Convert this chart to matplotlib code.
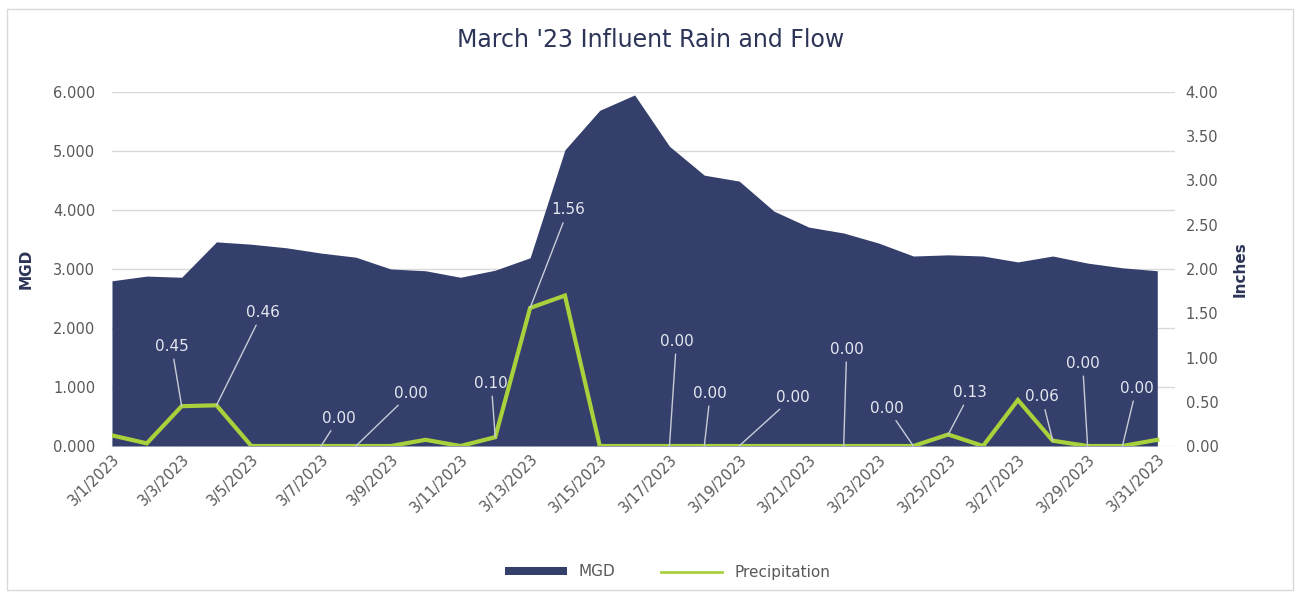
import numpy as np
import matplotlib
matplotlib.use("Agg")
import matplotlib.pyplot as plt
from matplotlib.patches import Rectangle, Patch
from matplotlib.lines import Line2D

# Data
days = [f"3/{d}/2023" for d in range(1, 32)]
mgd = [2.80, 2.88, 2.86, 3.46, 3.42, 3.36, 3.27, 3.20, 3.00, 2.97,
       2.86, 2.98, 3.19, 5.02, 5.69, 5.95, 5.08, 4.59, 4.49, 3.98,
       3.71, 3.61, 3.44, 3.22, 3.24, 3.22, 3.12, 3.22, 3.10, 3.02, 2.97]
precip = [0.12, 0.03, 0.45, 0.46, 0.00, 0.00, 0.00, 0.00, 0.00, 0.07,
          0.00, 0.10, 1.56, 1.70, 0.00, 0.00, 0.00, 0.00, 0.00, 0.00,
          0.00, 0.00, 0.00, 0.00, 0.13, 0.00, 0.52, 0.06, 0.00, 0.00, 0.07]

# which points carry a data label, and where the label sits (px offset from point)
label_idx = [2, 3, 6, 7, 11, 12, 16, 17, 18, 21, 23, 24, 27, 28, 29]
label_off = [(-10, 60), (46, 93), (18, 28), (55, 53), (-4, 54), (38, 98),
             (7, 105), (6, 53), (54, 49), (3, 97), (-26, 38), (22, 42),
             (-11, 44), (-5, 83), (14, 58)]

navy = "#343f6b"
lime = "#a9d13c"
grey = "#595959"
grid = "#d9d9d9"

plt.rcParams["font.family"] = ["DejaVu Sans"]

fig = plt.figure(figsize=(12.96, 5.95), dpi=100)
ax = fig.add_axes([0.0864, 0.2504, 0.82, 0.595])
ax2 = ax.twinx()

x = np.arange(len(days))
ax.fill_between(x, mgd, 0, color=navy, lw=0, zorder=2)
ax.set_ylim(0, 6)
ax.set_yticks(np.arange(0, 6.01, 1))
ax.set_yticklabels([f"{v:.3f}" for v in np.arange(0, 6.01, 1)])
ax.yaxis.grid(True, color=grid, lw=1, zorder=0)
ax.set_axisbelow(True)
ax.set_xlim(0, 30.5)
ax.set_xticks(x[::2])
ax.set_xticklabels(days[::2], rotation=45, ha="right", rotation_mode="anchor")
ax.tick_params(axis="x", direction="in", length=5, color=grid, colors=grey,
               labelsize=10.5, pad=4)
ax.tick_params(axis="y", length=0, colors=grey, labelsize=10.5, pad=12)
for sp in ax.spines.values():
    sp.set_visible(False)
ax.set_ylabel("MGD", color="#2c3557", fontsize=11, fontweight="bold", labelpad=14)

ax2.plot(x, precip, color=lime, lw=3, zorder=3, solid_joinstyle="miter")
ax2.set_ylim(0, 4)
ax2.set_yticks(np.arange(0, 4.01, 0.5))
ax2.set_yticklabels([f"{v:.2f}" for v in np.arange(0, 4.01, 0.5)])
ax2.tick_params(axis="y", length=0, colors=grey, labelsize=10.5, pad=8)
for sp in ax2.spines.values():
    sp.set_visible(False)
ax2.set_ylabel("Inches", color="#2c3557", fontsize=11, fontweight="bold", labelpad=10)

for i, (dx, dy) in zip(label_idx, label_off):
    ax2.annotate(f"{precip[i]:.2f}", xy=(i, precip[i]),
                 xytext=(dx * 0.72, dy * 0.72), textcoords="offset points",
                 ha="center", va="center", color="#e4e7ef", fontsize=11,
                 arrowprops=dict(arrowstyle="-", color="#c8ccd6", lw=1,
                                 shrinkA=2, shrinkB=0))

fig.text(0.502, 1 - 40 / 595, "March '23 Influent Rain and Flow", ha="center",
         va="center", fontsize=17, color="#2c3557")

handles = [Patch(facecolor=navy, edgecolor="none"),
           Line2D([0], [0], color=lime, lw=2)]
fig.legend(handles, ["MGD", "Precipitation"], loc="center",
           bbox_to_anchor=(668 / 1296, 1 - 572 / 595), ncol=2, frameon=False,
           fontsize=11, handlelength=4, handleheight=0.5, columnspacing=3,
           labelcolor=grey)

fig.patches.append(Rectangle((7 / 1296, 5 / 595), 1286 / 1296, 581 / 595,
                             transform=fig.transFigure, fill=False,
                             edgecolor=grid, lw=1))

fig.savefig("out.png", dpi=100)
